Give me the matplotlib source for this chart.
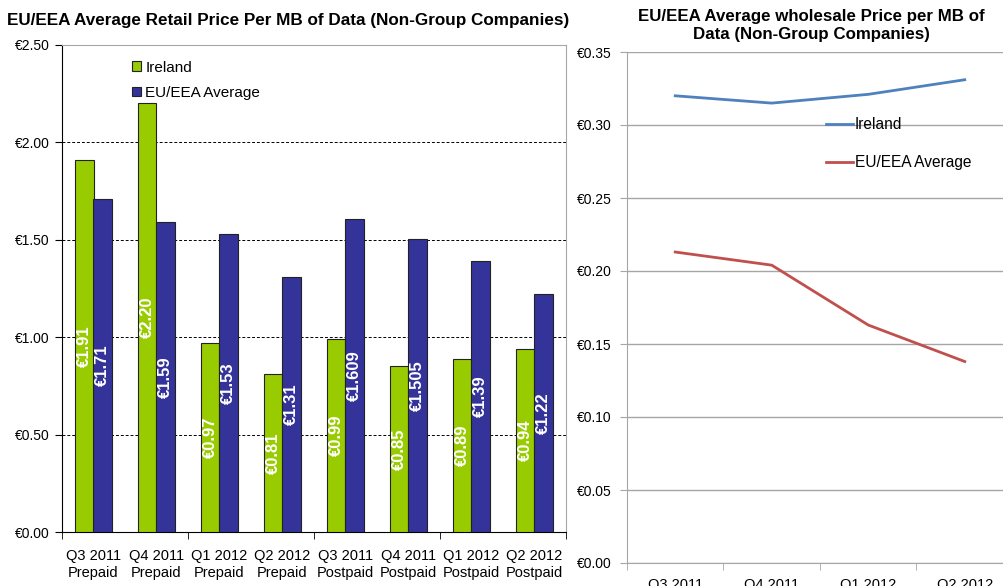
import matplotlib
matplotlib.use("Agg")
import matplotlib.pyplot as plt
from matplotlib.lines import Line2D
import numpy as np

plt.rcParams['font.family'] = ['Liberation Sans', 'DejaVu Sans']

# ---- data ----
retail_categories = ["Q3 2011\nPrepaid", "Q4 2011\nPrepaid", "Q1 2012\nPrepaid", "Q2 2012\nPrepaid",
                     "Q3 2011\nPostpaid", "Q4 2011\nPostpaid", "Q1 2012\nPostpaid", "Q2 2012\nPostpaid"]
ireland_retail = [1.91, 2.20, 0.97, 0.81, 0.99, 0.85, 0.89, 0.94]
eu_retail = [1.71, 1.59, 1.53, 1.31, 1.609, 1.505, 1.39, 1.22]
ireland_retail_labels = ["€1.91", "€2.20", "€0.97", "€0.81", "€0.99", "€0.85", "€0.89", "€0.94"]
eu_retail_labels = ["€1.71", "€1.59", "€1.53", "€1.31", "€1.609", "€1.505", "€1.39", "€1.22"]
retail_yticks = [0.0, 0.5, 1.0, 1.5, 2.0, 2.5]

wholesale_quarters = ["Q3 2011", "Q4 2011", "Q1 2012", "Q2 2012"]
ireland_wholesale = [0.320, 0.315, 0.321, 0.331]
eu_wholesale = [0.213, 0.204, 0.163, 0.138]
wholesale_yticks = [0.00, 0.05, 0.10, 0.15, 0.20, 0.25, 0.30, 0.35]

GREEN = "#99CC00"
NAVY = "#333399"
BLUE = "#4F81BD"
RED = "#C0504D"
GRAY = "#A6A6A6"

W, H = 1004, 586
fig = plt.figure(figsize=(W / 100, H / 100), dpi=100)

def px_axes(x0, y0, x1, y1):
    return fig.add_axes([x0 / W, 1 - y1 / H, (x1 - x0) / W, (y1 - y0) / H])

# ---- left: bar chart ----
ax = px_axes(62, 45, 566, 532)
n = len(retail_categories)
x = np.arange(n)
bw = 0.286
b1 = ax.bar(x - bw / 2, ireland_retail, bw, color=GREEN, edgecolor="#222222", linewidth=0.8,
            label="Ireland", zorder=3)
b2 = ax.bar(x + bw / 2, eu_retail, bw, color=NAVY, edgecolor="#222222", linewidth=0.8,
            label="EU/EEA Average", zorder=3)
for rect, lab in list(zip(b1, ireland_retail_labels)) + list(zip(b2, eu_retail_labels)):
    ax.text(rect.get_x() + rect.get_width() / 2, rect.get_height() / 2, lab,
            rotation=90, ha="center", va="center", color="white", fontsize=12,
            fontweight="bold", zorder=4)

ax.set_xlim(-0.5, n - 0.5)
ax.set_ylim(0, 2.5)
ax.set_yticks(retail_yticks)
ax.set_yticklabels([f"€{v:.2f}" for v in retail_yticks], fontsize=10)
for v in retail_yticks[1:-1]:
    ax.axhline(v, color="black", linestyle=(0, (3, 2)), linewidth=0.7, zorder=1)
ax.set_xticks(x)
ax.set_xticklabels(retail_categories, fontsize=10.5, linespacing=1.3)
ax.tick_params(axis="x", length=0, pad=12)
ax.set_xticks(np.arange(-0.5, n, 2), minor=True)
ax.tick_params(axis="x", which="minor", length=5, color="black")
ax.tick_params(axis="y", length=5, pad=4)
for s in ("top", "right"):
    ax.spines[s].set_color(GRAY)
for s in ("left", "bottom"):
    ax.spines[s].set_color("black")
fig.text(288 / W, 1 - 20 / H,
         "EU/EEA Average Retail Price Per MB of Data (Non-Group Companies)",
         ha="center", va="center", fontsize=12.3, fontweight="bold")
ax.legend(handles=[b1, b2], loc="upper left", bbox_to_anchor=(0.117, 0.99), frameon=False,
          fontsize=11, handlelength=0.6, handleheight=0.6, handletextpad=0.3,
          labelspacing=0.75, borderaxespad=0.3)

# ---- right: line chart ----
ax2 = px_axes(627, 52, 1013, 563)
xq = np.arange(len(wholesale_quarters))
ax2.plot(xq, ireland_wholesale, color=BLUE, linewidth=2, label="Ireland", zorder=3)
ax2.plot(xq, eu_wholesale, color=RED, linewidth=2, label="EU/EEA Average", zorder=3)
ax2.set_xlim(-0.5, len(xq) - 0.5)
ax2.set_ylim(0, 0.35)
ax2.set_yticks(wholesale_yticks)
ax2.set_yticklabels([f"€{v:.2f}" for v in wholesale_yticks], fontsize=10)
ax2.grid(axis="y", color=GRAY, linewidth=1, zorder=1)
ax2.set_axisbelow(True)
ax2.set_xticks(xq)
ax2.set_xticklabels(wholesale_quarters, fontsize=10.5)
ax2.tick_params(axis="x", which="major", length=0, pad=11)
ax2.set_xticks(np.arange(-0.5, len(xq), 1), minor=True)
ax2.tick_params(axis="x", which="minor", length=5, color=GRAY)
ax2.tick_params(axis="y", length=5, color=GRAY, pad=6)
for s in ("top", "right"):
    ax2.spines[s].set_visible(False)
for s in ("left", "bottom"):
    ax2.spines[s].set_color(GRAY)
fig.text(811 / W, 1 - 26 / H,
         "EU/EEA Average wholesale Price per MB of\nData (Non-Group Companies)",
         ha="center", va="center", fontsize=12.2, fontweight="bold", linespacing=1.25)
handles = [Line2D([], [], color=BLUE, linewidth=2), Line2D([], [], color=RED, linewidth=2)]
leg = ax2.legend(handles, ["Ireland", "EU/EEA Average"], loc="upper left",
                 bbox_to_anchor=(0.5, 0.885), frameon=False, fontsize=11.2,
                 handlelength=1.7, handletextpad=0.15, labelspacing=1.5, borderaxespad=0)

fig.savefig("out.png", dpi=100)
